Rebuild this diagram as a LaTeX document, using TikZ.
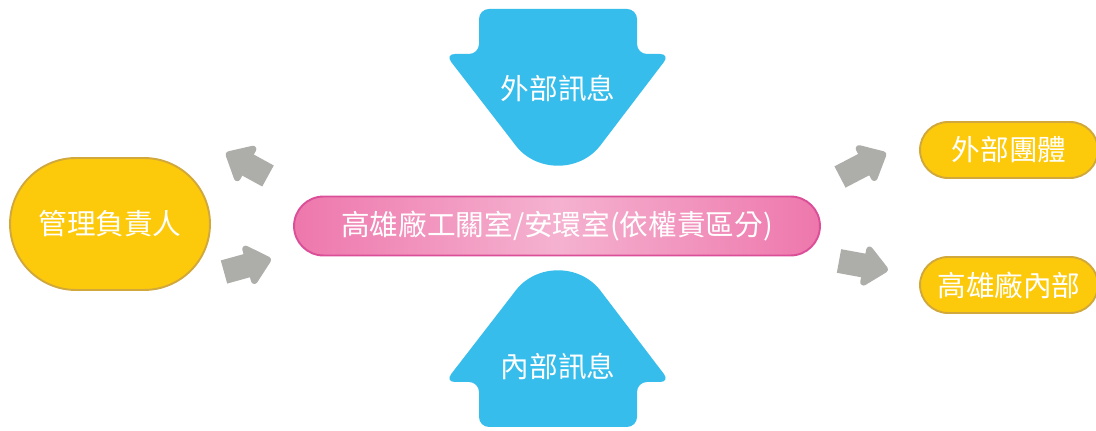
\documentclass[tikz,border=0pt]{standalone}
\usepackage{fontspec}
\newfontfamily\cjk{Noto Sans CJK TC}
\usepackage{tikz}
\usetikzlibrary{arrows.meta, shapes.misc}
\usepackage{xcolor}
\definecolor{msgblue}{RGB}{54,189,235}
\definecolor{pillyellow}{RGB}{253,202,11}
\definecolor{pillborder}{RGB}{209,168,60}
\definecolor{rosedark}{RGB}{238,119,172}
\definecolor{roselight}{RGB}{245,178,208}
\definecolor{roseborder}{RGB}{218,79,152}
\definecolor{flowgray}{RGB}{173,173,169}

\begin{document}
\begin{tikzpicture}[x=0.02cm, y=-0.02cm,
    pill/.style={rounded rectangle, fill=pillyellow, draw=pillborder, line width=1.1pt,
                 text=white, font=\cjk\fontsize{16.3}{19}\selectfont, inner sep=0pt},
    txt/.style={text=white, font=\cjk\fontsize{16.3}{19}\selectfont},
    flow/.style={flowgray, line width=0.48cm, -{Triangle[round, length=0.54cm, width=0.92cm]}}]
        % Cadre
        \clip (0,0) rectangle (1096,431);

        % --- Flèche du haut : informations externes ---
        \fill[msgblue, rounded corners=0.2cm] (479,9) -- (637,9) -- (637,54) -- (670,54)
            -- (606.5,137.4) .. controls (579.7,172.5) and (536.3,172.5) .. (509.5,137.4)
            -- (445,54) -- (479,54) -- cycle;
        \node[txt] (extmsg) at (558,88) {外部訊息};

        % --- Flèche du bas : informations internes ---
        \fill[msgblue, rounded corners=0.2cm] (479,427) -- (479,382) -- (445,382)
            -- (509.5,298.6) .. controls (536.3,263.5) and (579.7,263.5) .. (606.5,298.6)
            -- (670,382) -- (637,382) -- (637,427) -- cycle;
        \node[txt] (intmsg) at (558,366) {內部訊息};

        % --- Responsable à gauche ---
        \node[pill, minimum width=4cm, minimum height=2.64cm] (boss) at (110,224) {管理負責人};

        % --- Bloc central ---
        \node[rounded rectangle, draw=roseborder, line width=1.1pt,
              left color=rosedark, right color=rosedark, middle color=roselight,
              text=white, font=\cjk\fontsize{16.3}{19}\selectfont, inner sep=0pt,
              minimum width=10.52cm, minimum height=1.18cm] (office) at (557,226)
              {高雄廠工關室/安環室(依權責區分)};

        % --- Destinataires à droite ---
        \node[pill, minimum width=3.56cm, minimum height=1.12cm] (outside) at (1009,150) {外部團體};
        \node[pill, minimum width=3.56cm, minimum height=1.12cm] (inside) at (1009,285) {高雄廠內部};

        % --- Flèches grises ---
        \foreach \n/\sx/\sy/\ex/\ey in {g1/268/176/226/153, g2/224/272/271/259,
                                         g3/840/177/886/153, g4/839/261/888/270} {
            \coordinate (\n s) at (\sx,\sy);
            \coordinate (\n e) at (\ex,\ey);
            \draw[flow] (\n s) -- (\n e);
        }
    \end{tikzpicture}
\end{document}
